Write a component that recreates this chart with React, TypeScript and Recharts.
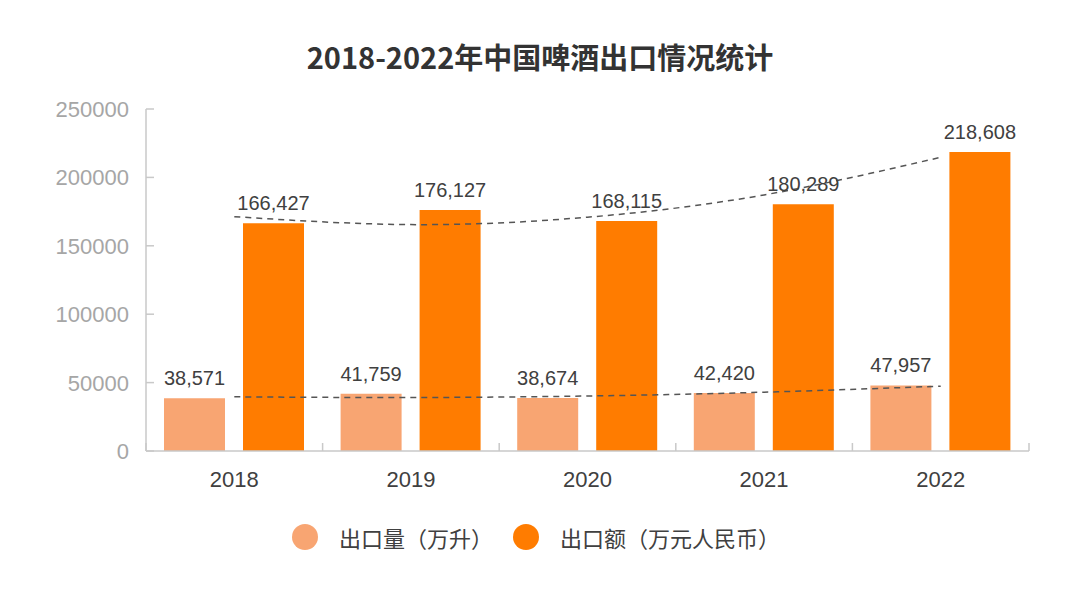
import React from 'react';
import { ComposedChart, Bar, Line, XAxis, YAxis, LabelList } from 'recharts';

const categories = ['2018', '2019', '2020', '2021', '2022'];
const exportVolume = [38571, 41759, 38674, 42420, 47957];
const exportValue = [166427, 176127, 168115, 180289, 218608];
const volumeTrend = [39600, 39100, 40200, 43000, 47400];
const valueTrend = [171300, 165500, 170900, 187200, 214700];
const yTicks = [0, 50000, 100000, 150000, 200000, 250000];

const title = '2018-2022年中国啤酒出口情况统计';
const volumeName = '出口量（万升）';
const valueName = '出口额（万元人民币）';

const LIGHT = '#F8A572';
const DARK = '#FF7C00';
const AXIS = '#C9C9C9';
const TEXT = '#404040';
const NUM_FONT = '"Liberation Sans", Arial, "Noto Sans CJK SC", sans-serif';
const CJK_FONT = '"Noto Sans CJK SC", "Liberation Sans", sans-serif';

const W = 1080;
const H = 607;
const X_HEIGHT = 40;
const MARGIN = { top: 109, right: 51, bottom: 156 - X_HEIGHT, left: 0 };
const Y_WIDTH = 146;
const HALF_BAND = (W - MARGIN.right - Y_WIDTH) / categories.length / 2;

const data = categories.map((c, i) => ({
  year: c,
  volume: exportVolume[i],
  value: exportValue[i],
  volumeTrend: volumeTrend[i],
  valueTrend: valueTrend[i],
}));

const fmt = (v: any) => Number(v).toLocaleString('en-US');

const YTick = (props: any) => {
  const { x, y, payload } = props;
  return (
    <g>
      <text x={x} y={y} dy={8} textAnchor="end" fill="#A6A6A6" fontSize={22} fontFamily={NUM_FONT}>
        {payload.value}
      </text>
      <line x1={x + 17} x2={x + 25} y1={y} y2={y} stroke={AXIS} strokeWidth={1.5} />
    </g>
  );
};

const XTick = (props: any) => {
  const { x, y, payload, index } = props;
  return (
    <g>
      <line x1={x - HALF_BAND} x2={x - HALF_BAND} y1={y} y2={y - 8} stroke={AXIS} strokeWidth={1.5} />
      {index === categories.length - 1 && (
        <line x1={x + HALF_BAND} x2={x + HALF_BAND} y1={y} y2={y - 8} stroke={AXIS} strokeWidth={1.5} />
      )}
      <text x={x} y={y} dy={36} textAnchor="middle" fill={TEXT} fontSize={22} fontFamily={NUM_FONT}>
        {payload.value}
      </text>
    </g>
  );
};

const LegendItem = ({ color, label }: { color: string; label: string }) => (
  <div style={{ display: 'flex', alignItems: 'center' }}>
    <span style={{ width: 26, height: 26, borderRadius: 13, background: color, display: 'inline-block' }} />
    <span style={{ marginLeft: 21, fontSize: 22, color: TEXT, fontFamily: CJK_FONT, lineHeight: '26px' }}>{label}</span>
  </div>
);

export default function App() {
  return (
    <div style={{ position: 'fixed', left: 0, top: 0, width: W, height: H, background: '#fff' }}>
      <div
        style={{
          position: 'absolute',
          top: 36,
          left: 0,
          width: W,
          textAlign: 'center',
          fontSize: 29,
          fontWeight: 'bold',
          lineHeight: '40px',
          color: '#333333',
          fontFamily: CJK_FONT,
        }}
      >
        {title}
      </div>
      <ComposedChart width={W} height={H} data={data} margin={MARGIN} barGap={18} barSize={61}>
        <YAxis
          width={Y_WIDTH}
          domain={[0, 250000]}
          ticks={yTicks}
          interval={0}
          axisLine={{ stroke: AXIS, strokeWidth: 1.5 }}
          tickLine={false}
          tickSize={0}
          tickMargin={17}
          tick={<YTick />}
        />
        <XAxis
          dataKey="year"
          axisLine={{ stroke: AXIS, strokeWidth: 1.5 }}
          tickLine={false}
          tickSize={0}
          tickMargin={0}
          height={X_HEIGHT}
          interval={0}
          tick={<XTick />}
        />
        <Bar dataKey="volume" fill={LIGHT} isAnimationActive={false}>
          <LabelList dataKey="volume" position="top" offset={13} formatter={fmt} fill={TEXT} fontSize={20} fontFamily={NUM_FONT} />
        </Bar>
        <Bar dataKey="value" fill={DARK} isAnimationActive={false}>
          <LabelList dataKey="value" position="top" offset={13} formatter={fmt} fill={TEXT} fontSize={20} fontFamily={NUM_FONT} />
        </Bar>
        <Line dataKey="volumeTrend" type="natural" stroke="#555555" strokeWidth={1.5} strokeDasharray="6 5" dot={false} activeDot={false} isAnimationActive={false} />
        <Line dataKey="valueTrend" type="natural" stroke="#555555" strokeWidth={1.5} strokeDasharray="6 5" dot={false} activeDot={false} isAnimationActive={false} />
      </ComposedChart>
      <div style={{ position: 'absolute', left: 292, top: 524, display: 'flex', gap: 20 }}>
        <LegendItem color={LIGHT} label={volumeName} />
        <LegendItem color={DARK} label={valueName} />
      </div>
    </div>
  );
}
